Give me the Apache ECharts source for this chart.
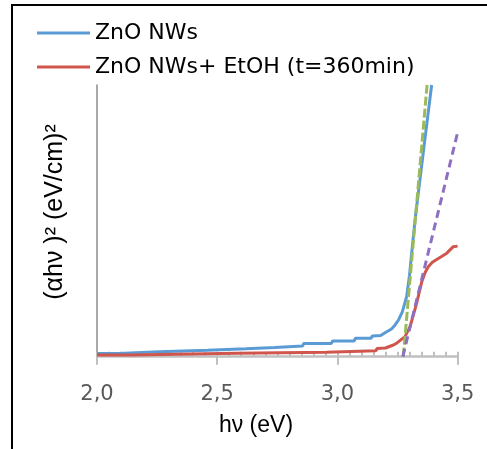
<!DOCTYPE html>
<html>
<head>
<meta charset="utf-8">
<script src="https://cdn.jsdelivr.net/npm/echarts@6/dist/echarts.min.js"></script>
<style>
html,body{margin:0;padding:0;background:#fff;}
#chart{width:487px;height:449px;}
</style>
</head>
<body>
<div id="chart"></div>
<script>
// Series names
const seriesNames = ['ZnO NWs', 'ZnO NWs+ EtOH (t=360min)'];
// x-axis tick values
const xTicks = [2.0, 2.5, 3.0, 3.5];
// ZnO NWs (blue) [hv, (αhν)²] arbitrary units (0-100 = plot height)
const blueData = [
  [2.0,1.2],[2.09,1.2],[2.095,1.8],[2.26,1.8],[2.265,2.4],[2.46,2.4],[2.465,2.9],
  [2.62,2.9],[2.625,3.4],[2.74,3.4],[2.745,3.9],[2.855,3.9],[2.86,4.9],[2.975,4.9],
  [2.98,5.8],[3.07,5.8],[3.075,6.8],[3.14,6.8],[3.145,7.6],[3.18,7.8],[3.205,9.2],
  [3.225,10.2],[3.24,11.7],[3.254,13.5],[3.27,16.5],[3.288,22.1],[3.30,30],
  [3.309,38.2],[3.323,50.3],[3.357,75],[3.392,100]
];
// ZnO NWs + EtOH (red)
const redData = [
  [2.0,0.6],[2.14,0.6],[2.145,1.25],[2.58,1.25],[2.585,1.6],[2.955,1.6],[2.96,2.2],
  [3.16,2.2],[3.165,3.0],[3.2,3.2],[3.233,4.3],[3.247,5.0],[3.261,6.0],[3.281,7.4],
  [3.302,11],[3.315,15],[3.330,19.8],[3.351,27.6],[3.365,31],[3.378,33.1],
  [3.395,34.8],[3.413,35.8],[3.435,37],[3.455,38.1],[3.482,40.5],[3.5,40.7]
];
// Linear fit (green) for ZnO NWs
const greenFit = [[3.274,0],[3.373,100]];
// Linear fit (purple) for ZnO NWs + EtOH
const purpleFit = [[3.272,0],[3.5,82.5]];

const chart = echarts.init(document.getElementById('chart'), null, {renderer:'canvas'});
const axisGray = '#c0c0c0';
chart.setOption({
  animation: false,
  backgroundColor: '#ffffff',
  grid: {left: 97, right: 29.4, top: 85, bottom: 92.3},
  legend: {
    data: seriesNames,
    orient: 'vertical',
    left: 37, top: 22,
    padding: 0,
    icon: 'rect',
    itemWidth: 53, itemHeight: 3,
    itemGap: 12,
    textStyle: {fontFamily: 'DejaVu Sans', fontSize: 22, color: '#000', lineHeight: 22}
  },
  xAxis: [{
    type: 'value', min: xTicks[0], max: xTicks[xTicks.length-1], interval: 0.5,
    axisLine: {show: true, lineStyle: {color: axisGray, width: 2.5}},
    axisTick: {show: true, inside: false, length: 8, lineStyle: {color: axisGray, width: 2}},
    minorTick: {show: false},
    splitLine: {show: false},
    axisLabel: {margin: 27, fontFamily: 'DejaVu Sans', fontSize: 21, color: '#595959',
      formatter: v => v.toFixed(1).replace('.', ',')}
  },{
    type: 'value', min: xTicks[0], max: xTicks[xTicks.length-1], interval: 0.5,
    position: 'bottom',
    axisLine: {show: false},
    axisTick: {show: true, inside: true, length: 5, lineStyle: {color: axisGray, width: 2}},
    minorTick: {show: true, splitNumber: 10, length: 5, lineStyle: {color: axisGray, width: 2}},
    splitLine: {show: false},
    axisLabel: {show: false}
  }],
  yAxis: {
    type: 'value', min: 0, max: 100,
    axisLine: {show: true, lineStyle: {color: '#8c8c8c', width: 1.5}},
    axisTick: {show: false},
    axisLabel: {show: false},
    splitLine: {show: false}
  },
  series: [
    {name: seriesNames[0], type: 'line', data: blueData, showSymbol: false, symbol: 'none',
      lineStyle: {color: '#5b9bd5', width: 3}, itemStyle: {color: '#5b9bd5'}, z: 2},
    {name: seriesNames[1], type: 'line', data: redData, showSymbol: false, symbol: 'none',
      lineStyle: {color: '#d0564d', width: 3}, itemStyle: {color: '#d0564d'}, z: 3},
    {name: 'fit1', type: 'line', data: greenFit, showSymbol: false, symbol: 'none',
      lineStyle: {color: '#9bbb59', width: 3, type: [9, 3]}, z: 4},
    {name: 'fit2', type: 'line', data: purpleFit, showSymbol: false, symbol: 'none',
      lineStyle: {color: '#8e6fc1', width: 3, type: [8, 5]}, z: 5}
  ],
  graphic: [
    {type: 'line', shape: {x1: 11, y1: 5, x2: 487, y2: 5}, style: {stroke: '#000', lineWidth: 2}},
    {type: 'line', shape: {x1: 12, y1: 4, x2: 12, y2: 449}, style: {stroke: '#000', lineWidth: 2}},
    {type: 'text', x: 256, y: 426, style: {text: 'hν (eV)', font: '23px "Liberation Sans"', fill: '#000', textAlign: 'center', textVerticalAlign: 'middle'}},
    {type: 'text', x: 55, y: 212, rotation: Math.PI/2, style: {text: '(αhν )² (eV/cm)²', font: '25px "Liberation Sans"', fill: '#000', textAlign: 'center', textVerticalAlign: 'middle'}}
  ]
});
</script>
</body>
</html>
